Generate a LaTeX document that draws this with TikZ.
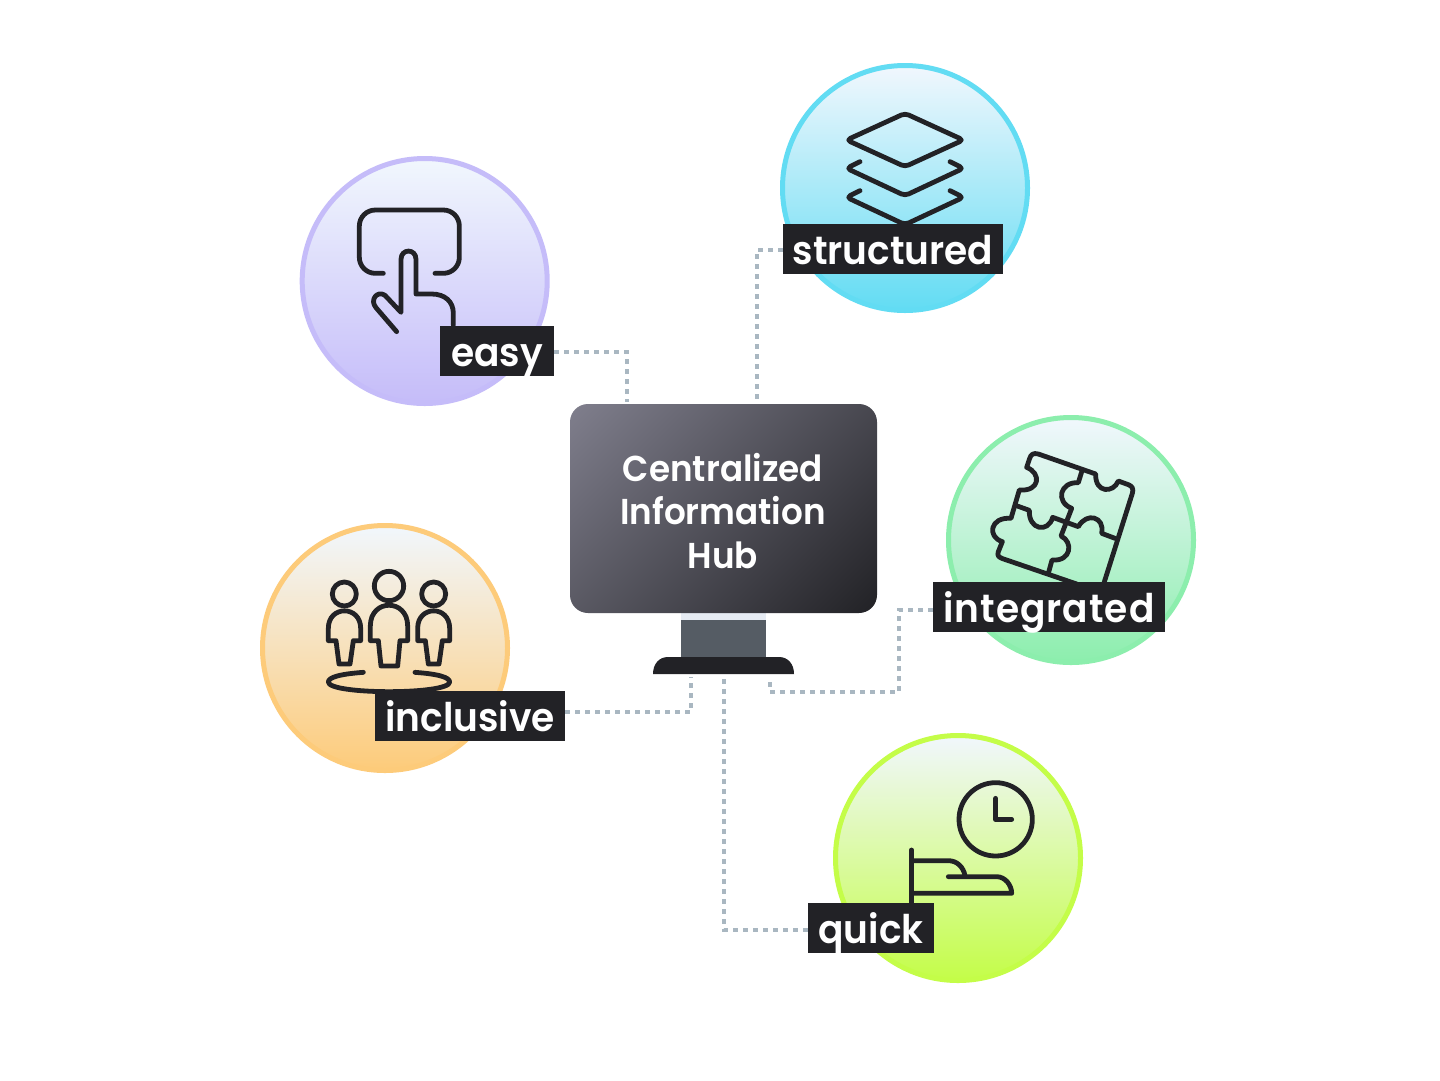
\documentclass[tikz,border=0pt]{standalone}
\usepackage{fontspec}
\setmainfont{Poppins SemiBold}[FakeStretch=0.95]
\definecolor{tagdark}{HTML}{222226}
\definecolor{linkgray}{HTML}{A9B7C1}
\definecolor{cEasy}{HTML}{C5BCF9}
\definecolor{cStruct}{HTML}{62DCF3}
\definecolor{cInteg}{HTML}{8CEEAD}
\definecolor{cIncl}{HTML}{FDCB7A}
\definecolor{cQuick}{HTML}{C4FD48}
\definecolor{tipBlue}{HTML}{F1F7FD}
\definecolor{neckGray}{HTML}{555C64}
\definecolor{neckLight}{HTML}{E6EBF3}
\definecolor{hubA}{HTML}{7F7E8C}
\pgfdeclareverticalshading{hubgrad}{100bp}{color(0bp)=(tagdark); color(15bp)=(tagdark); color(85bp)=(hubA); color(100bp)=(hubA)}
\begin{document}
\begin{tikzpicture}[x=1pt,y=-1pt,
  disc/.style={circle,draw=#1,line width=5pt,minimum size=245pt,inner sep=0pt,outer sep=0pt,bottom color=#1},
  tag/.style={fill=tagdark,text=white,inner xsep=0pt,inner ysep=0pt,minimum height=50pt,text height=40pt,text depth=10pt,font=\fontsize{39.5}{39.5}\selectfont,anchor=center},
  link/.style={draw=linkgray,line width=4.8pt,dash pattern=on 4.8pt off 5.2pt},
  ico/.style={draw=tagdark,line width=4.8pt,line cap=round,line join=round},
  zoomed/.style={x=0.33333pt,y=-0.33333pt}]
\useasboundingbox (0,0) rectangle (1440,1080);
\fill[white] (0,0) rectangle (1440,1080);

% discs
\node[disc=cEasy,top color=tipBlue] (dEasy) at (424.7,281) {};
\node[disc=cStruct,top color=tipBlue] (dStruct) at (905,188) {};
\node[disc=cInteg,top color=tipBlue] (dInteg) at (1071,540) {};
\node[disc=cIncl,top color=tipBlue] (dIncl) at (385,648) {};
\node[disc=cQuick,top color=tipBlue] (dQuick) at (958,858) {};

% easy icon
\begin{scope}[shift={(290,150)},zoomed]
\draw[ico,rounded corners=16pt] (280,370) -| (208,180) -| (508,370) -- (435,370);
\draw[ico] (490,525) -- (490,490) .. controls (490,455) and (465,432) .. (425,432) -- (378,432)
  -- (378,328) .. controls (378,295) and (333,295) .. (333,328) -- (333,487)
  -- (285,436) .. controls (262,420) and (238,450) .. (258,473) -- (320,545);
\end{scope}

% structured icon
\begin{scope}[shift={(750,60)},zoomed]
\draw[ico,rounded corners=4pt] (465,160) -- (640,240) -- (465,320) -- (290,240) -- cycle;
\draw[ico,rounded corners=4pt] (330,305) -- (290,325) -- (465,407) -- (640,325) -- (600,305);
\draw[ico,rounded corners=4pt] (330,392) -- (290,412) -- (465,494) -- (640,412) -- (600,392);
\end{scope}

% integrated icon
\begin{scope}[shift={(930,410)},zoomed]
\draw[ico] (520,525) -- (607,250) .. controls (612,235) and (605,228) .. (595,224)
  -- (565,213) .. controls (550,250) and (495,250) .. (497,192)
  -- (325,132) .. controls (310,128) and (303,133) .. (299,145)
  -- (290,172) .. controls (335,190) and (330,245) .. (268,240)
  -- (243,325) .. controls (180,320) and (170,380) .. (217,395)
  -- (205,425) .. controls (200,438) and (208,442) .. (218,446) -- (440,522);
\draw[ico] (456,182) -- (445,218) .. controls (390,215) and (375,275) .. (425,295)
  -- (393,378) .. controls (430,395) and (425,455) .. (366,450) -- (355,490);
\draw[ico] (262,288) -- (298,301) .. controls (295,360) and (355,370) .. (368,322)
  -- (445,350) .. controls (470,305) and (525,320) .. (515,370) -- (555,385);
\end{scope}

% inclusive icon
\begin{scope}[shift={(255,520)},zoomed]
\draw[ico] (268,222) circle (36);
\draw[ico] (402,198) circle (44);
\draw[ico] (536,222) circle (36);
\draw[ico] (220,362) -- (220,325) .. controls (220,255) and (317,255) .. (317,325) -- (317,362) -- (295,362) -- (285,432) -- (252,432) -- (243,362) -- cycle;
\draw[ico] (346,362) -- (346,318) .. controls (346,235) and (458,235) .. (458,318) -- (458,362) -- (435,362) -- (428,438) -- (378,438) -- (370,362) -- cycle;
\draw[ico] (488,362) -- (488,325) .. controls (488,255) and (584,255) .. (584,325) -- (584,362) -- (562,362) -- (552,432) -- (520,432) -- (511,362) -- cycle;
\draw[ico] (325,457) .. controls (255,462) and (220,472) .. (220,486) .. controls (220,505) and (310,515) .. (402,515) .. controls (495,515) and (584,505) .. (584,486) .. controls (584,472) and (550,462) .. (480,457);
\end{scope}

% quick icon
\begin{scope}[shift={(800,730)},zoomed]
\draw[ico] (587,268) circle (110);
\draw[ico] (587,205) -- (587,268) -- (635,268);
\draw[ico] (335,360) -- (335,525);
\draw[ico] (338,392) -- (445,392) .. controls (470,392) and (490,410) .. (495,437);
\draw[ico] (445,440) -- (590,440) .. controls (615,440) and (635,465) .. (635,490) -- (338,490);
\end{scope}

% labels
\node[tag,minimum width=114pt] (lEasy) at (497,351) {easy};
\node[tag,minimum width=220pt] (lStruct) at (893,249) {structured};
\node[tag,minimum width=232pt] (lInteg) at (1049,607) {\addfontfeature{LetterSpace=2.5}integrated};
\node[tag,minimum width=190pt] (lIncl) at (470,716) {inclusive};
\node[tag,minimum width=126pt] (lQuick) at (871,928) {quick};

% monitor
\fill[neckGray] (681,613) rectangle (766,657);
\fill[neckLight] (681,613) rectangle (766,620);
\node[rounded corners=18pt,minimum width=307pt,minimum height=209pt,inner sep=0pt,outer sep=0pt,
  shading=hubgrad,shading angle=45] (hub) at (723.5,508.5) {};
\node[text=white,align=center,font=\fontsize{36}{43.5}\selectfont] (hubText) at (723,511) {Centralized\\Information\\Hub};
\fill[tagdark] (653,674) .. controls (653,664) and (659,657) .. (668,657) -- (779,657) .. controls (788,657) and (794,664) .. (794,674) -- cycle;

% anchors on the monitor
\coordinate (pA) at (627,402);
\coordinate (pB) at (757,402);
\coordinate (pC) at (770,677);
\coordinate (pD) at (691,677);
\coordinate (pE) at (724,677);

% connectors
\draw[link] (lEasy.east |- 0,352) -| (pA);
\draw[link] (lStruct.west |- 0,250) -| (pB);
\draw[link] (lInteg.west |- 0,610) -- (899,610) |- (770,692) -- (pC);
\draw[link] (lIncl.east |- 0,712) -| (pD);
\draw[link] (lQuick.west |- 0,930) -| (pE);
\end{tikzpicture}
\end{document}
